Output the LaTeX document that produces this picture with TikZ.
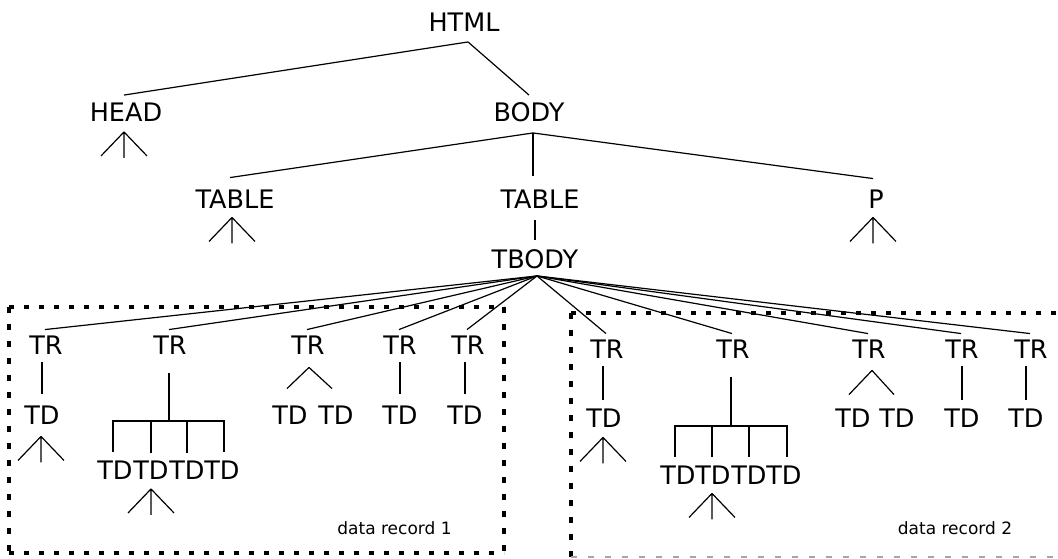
\documentclass[tikz,border=0pt]{standalone}
\usepackage{fontspec}
\setmainfont{DejaVu Sans}
\usetikzlibrary{calc}
\begin{document}
\begin{tikzpicture}[x=1pt,y=-1pt,
  tag/.style={inner xsep=0pt,inner ysep=8pt,text height=18.5pt,text depth=0pt,
              font=\fontsize{25.5}{30}\selectfont},
  lbl/.style={inner sep=0pt,font=\fontsize{17}{20}\selectfont},
  edge/.style={line width=1.2pt},
  boxh/.style={line width=3.2pt,dash pattern=on 5pt off 10pt},
  boxv/.style={line width=3.2pt,dash pattern=on 5.5pt off 11.5pt}]
\useasboundingbox (0,0) rectangle (1058,558);

% upper tree
\node[tag] (HTML) at (464,22.5) {HTML};
\node[tag] (HEAD) at (126,112.5) {HEAD};
\node[tag] (BODY) at (529,112.5) {BODY};
\node[tag] (TABa) at (235,199) {TABLE};
\node[tag] (TABb) at (540,199) {TABLE};
\node[tag] (P) at (876,199) {P};
\node[tag] (TBODY) at (535,259.5) {TBODY};

\draw[edge] ($(HTML.south)+(4,2)$) -- ($(HEAD.north)+(-2,0)$);
\draw[edge] ($(HTML.south)+(4,2)$) -- (BODY.north);
\draw[edge] ($(BODY.south)+(4,3)$) -- ($(TABa.north)+(-5,-4)$);
\draw[edge] ($(BODY.south)+(4,3)$) -- ($(TABb.north)+(-7,-6)$);
\draw[edge] ($(BODY.south)+(4,3)$) -- ($(P.north)+(-3,-3)$);
\draw[edge] ($(TABb.south)+(-5,4)$) -- ($(TBODY.north)+(0,-2)$);

% small subtrees
\newcommand{\subtri}[2]{%
  \draw[edge] ($(#1.south)+(#2)$) coordinate (apx) -- ++(-23,24)
              (apx) -- ++(0,26) (apx) -- ++(23,24);}
\subtri{HEAD}{-2,2}
\subtri{TABa}{-3,1}
\subtri{P}{-3,1}

% ---------- record 1 ----------
\node[tag] (TRa1) at (46,345) {TR};
\node[tag] (TRb1) at (170,345) {TR};
\node[tag] (TRc1) at (308,345) {TR};
\node[tag] (TRd1) at (400,345) {TR};
\node[tag] (TRe1) at (468,345) {TR};
\node[tag] (TDa1) at (42,415) {TD};
\node[tag] (TDb1) at (115,470.5) {TD};
\node[tag] (TDb2) at (151,470.5) {TD};
\node[tag] (TDb3) at (187,470.5) {TD};
\node[tag] (TDb4) at (222,470.5) {TD};
\node[tag] (TDc1) at (290,415) {TD};
\node[tag] (TDc2) at (336,415) {TD};
\node[tag] (TDd1) at (400,415) {TD};
\node[tag] (TDe1) at (465,415) {TD};
\node[lbl] (L1) at (394.5,528) {data record 1};

% ---------- record 2 ----------
\node[tag] (TRa2) at (607,349) {TR};
\node[tag] (TRb2) at (733,349) {TR};
\node[tag] (TRc2) at (869,349) {TR};
\node[tag] (TRd2) at (962,349) {TR};
\node[tag] (TRe2) at (1031,349) {TR};
\node[tag] (TDa2) at (604,418) {TD};
\node[tag] (TDf1) at (678,475) {TD};
\node[tag] (TDf2) at (713,475) {TD};
\node[tag] (TDf3) at (749,475) {TD};
\node[tag] (TDf4) at (784,475) {TD};
\node[tag] (TDg1) at (853,418) {TD};
\node[tag] (TDg2) at (897,418) {TD};
\node[tag] (TDh1) at (962,418) {TD};
\node[tag] (TDi1) at (1026,418) {TD};
\node[lbl] (L2) at (955,528) {data record 2};

% fan from TBODY
\foreach \t in {TRa1,TRb1,TRc1,TRd1,TRe1,TRa2,TRb2,TRc2,TRd2,TRe2}
  \draw[edge] ($(TBODY.south)+(2,-1)$) -- ($(\t.north)+(-1,2)$);

% record 1 internals
\draw[edge] (TDa1.north |- TRa1.south) -- ($(TDa1.north)+(0,-4)$);
\draw[edge] (TDd1.north |- TRd1.south) -- ($(TDd1.north)+(0,-4)$);
\draw[edge] (TDe1.north |- TRe1.south) -- ($(TDe1.north)+(0,-4)$);
\draw[edge] ($(TRc1.south)+(1,5)$) -- ($(TDc1.north)+(-3,-9)$);
\draw[edge] ($(TRc1.south)+(1,5)$) -- ($(TDc2.north)+(-4,-9)$);
\coordinate (bar1) at (169,421);
\draw[edge] ($(TRb1.south)+(-1,11)$) -- (bar1);
\draw[edge] ($(TDb1.north)+(-2,-1)$) |- (bar1) -| ($(TDb4.north)+(2,-1)$);
\draw[edge] (TDb2.north) -- (TDb2.north |- bar1);
\draw[edge] (TDb3.north) -- (TDb3.north |- bar1);
\subtri{TDa1}{-1,4}
\subtri{TDb2}{0,1}

% record 2 internals
\draw[edge] ($(TDa2.north |- TRa2.south)+(-1,0)$) -- ($(TDa2.north)+(-1,-1)$);
\draw[edge] (TDh1.north |- TRd2.south) -- ($(TDh1.north)+(0,-1)$);
\draw[edge] (TDi1.north |- TRe2.south) -- ($(TDi1.north)+(0,-1)$);
\draw[edge] ($(TRc2.south)+(3,4)$) -- ($(TDg1.north)+(-4,-6)$);
\draw[edge] ($(TRc2.south)+(3,4)$) -- ($(TDg2.north)+(-3,-6)$);
\coordinate (bar2) at (731,426);
\draw[edge] ($(TRb2.south)+(-2,11)$) -- (bar2);
\draw[edge] ($(TDf1.north)+(-3,-1)$) |- (bar2) -| ($(TDf4.north)+(3,-1)$);
\draw[edge] ($(TDf2.north)+(-1,-1)$) -- ($(TDf2.north |- bar2)+(-1,0)$);
\draw[edge] ($(TDf3.north)+(0,-1)$) -- (TDf3.north |- bar2);
\subtri{TDa2}{-1,2}
\subtri{TDf2}{-1,1}

% dotted record boxes
\draw[boxh] (9,307) -- (504,307);
\draw[boxh] (9,553) -- (504,553);
\draw[boxv] (9,307) -- (9,553);
\draw[boxv] (504,307) -- (504,553);
\draw[boxh] (571,313) -- (1070,313);
\draw[boxv] (571,313) -- (571,557);
\draw[line width=1.5pt,gray!70,dash pattern=on 6pt off 11pt] (571,557.2) -- (1070,557.2);
\end{tikzpicture}
\end{document}
